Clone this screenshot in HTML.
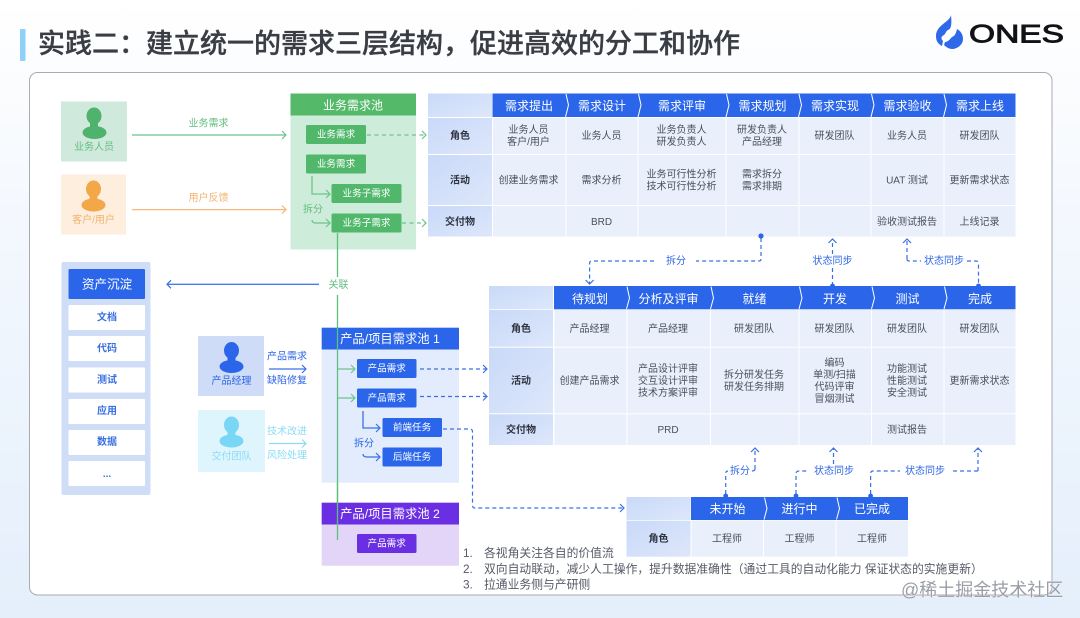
<!DOCTYPE html>
<html lang="zh">
<head>
<meta charset="utf-8">
<title>实践二</title>
<style>
html,body{margin:0;padding:0;width:1080px;height:618px;overflow:hidden;background:#fff}
svg{display:block}
text{font-family:"Liberation Sans","Noto Sans CJK SC",sans-serif;dominant-baseline:central;text-anchor:middle;font-size:10px;fill:#4a4f5c;transform:translateY(1px)}
.h{font-size:12px;fill:#fff}
.b{font-weight:700;fill:#2f3340}
.i{font-size:9.6px;fill:#fff}
.g{fill:#62bd80;font-size:10px}
.o{fill:#f2b36f;font-size:10px}
.bl{fill:#2f67e6;font-size:10px}
.lb{fill:#8adcf5;font-size:10px}
.d{fill:#2f67e6;font-size:10px}
.a{fill:#3a6fe0;font-size:10px;font-weight:700}
.l{text-anchor:start;font-size:11.8px;fill:#555a66}
.cell{fill:#e9effb}
.first{fill:url(#fc)}
.blue{fill:#2b66ea}
.ch{fill:none;stroke:#fff;stroke-width:1}
.dash{fill:none;stroke:#3a70e6;stroke-width:1.2;stroke-dasharray:4 3}
.solid{fill:none;stroke-width:1.3}
</style>
</head>
<body>
<svg width="1080" height="618" viewBox="0 0 1080 618" xmlns="http://www.w3.org/2000/svg">
<defs>
<linearGradient id="bg" x1="0" y1="0" x2="0" y2="1"><stop offset="0" stop-color="#ffffff"/><stop offset="0.35" stop-color="#f4f8fe"/><stop offset="1" stop-color="#e4effb"/></linearGradient>
<linearGradient id="fc" x1="0" y1="0" x2="1" y2="1"><stop offset="0" stop-color="#c9d9f8"/><stop offset="1" stop-color="#dde7fb"/></linearGradient>
<marker id="mg" markerWidth="8" markerHeight="10" refX="5" refY="5" orient="auto" markerUnits="userSpaceOnUse"><path d="M1 1 L5 5 L1 9" fill="none" stroke="#6cc48a" stroke-width="1.2"/></marker>
<marker id="mo" markerWidth="8" markerHeight="10" refX="5" refY="5" orient="auto" markerUnits="userSpaceOnUse"><path d="M1 1 L5 5 L1 9" fill="none" stroke="#f5b878" stroke-width="1.2"/></marker>
<marker id="mb" markerWidth="8" markerHeight="10" refX="5" refY="5" orient="auto" markerUnits="userSpaceOnUse"><path d="M1 1 L5 5 L1 9" fill="none" stroke="#3a70e6" stroke-width="1.2"/></marker>
<marker id="ml" markerWidth="8" markerHeight="10" refX="5" refY="5" orient="auto" markerUnits="userSpaceOnUse"><path d="M1 1 L5 5 L1 9" fill="none" stroke="#8adcf5" stroke-width="1.2"/></marker>
</defs>

<rect width="1080" height="618" fill="url(#bg)"/>

<!-- Title -->
<rect x="20" y="29" width="5.5" height="32" rx="1" fill="#8fd0f8"/>
<text x="38" y="43" style="text-anchor:start;font-size:27px;font-weight:500;fill:#3a3d43;stroke:#3a3d43;stroke-width:0.35">实践二&#xFF1A;建立统一的需求三层结构&#xFF0C;促进高效的分工和协作</text>

<!-- Logo -->
<path d="M951 15 C950 22 936 25 936 36 C936 41 938 44 942 46 L943 41 C940 38 942 36 944 35 C946 33 946 31 948 30 C951 29 952 25 951 15Z" fill="#2f69ea"/>
<path d="M945 42 C948 42 950 39 952 37 C955 36 956 33 957 29 C961 31 963 35 963 39 C963 45 957 49 952 49 C949 49 946 47 944 45Z" fill="#2f69ea"/>
<text x="969" y="33.5" textLength="95" lengthAdjust="spacingAndGlyphs" style="text-anchor:start;font-size:25px;fill:#101216;stroke:#101216;stroke-width:0.9">ONES</text>

<!-- Card -->
<rect x="29.5" y="72.5" width="1022.5" height="522.5" rx="8" fill="#fff" stroke="#a8abb0" stroke-width="1"/>

<!-- Left persons -->
<rect x="61" y="101.5" width="66" height="60" fill="#cfeadc"/>
<g fill="#4fb36e"><ellipse cx="94" cy="116" rx="7.5" ry="8.5"/><rect x="90" y="121" width="8" height="8"/><ellipse cx="94.5" cy="132.5" rx="12" ry="6.5"/></g>
<text x="94" y="146.5" class="g">业务人员</text>
<rect x="61" y="174.5" width="65" height="60" fill="#fdeedd"/>
<g fill="#f2a748"><ellipse cx="93.5" cy="189" rx="7.5" ry="8.5"/><rect x="89.5" y="194" width="8" height="8"/><ellipse cx="93.5" cy="205" rx="12" ry="6.5"/></g>
<text x="93.5" y="219.5" class="o">客户/用户</text>

<text x="208.5" y="123" class="g">业务需求</text>
<line x1="132" y1="135" x2="286" y2="135" stroke="#6cc48a" stroke-width="1.3" marker-end="url(#mg)"/>
<text x="208.5" y="197.5" class="o">用户反馈</text>
<line x1="132" y1="209.6" x2="286" y2="209.6" stroke="#f5b878" stroke-width="1.3" marker-end="url(#mo)"/>

<!-- Business pool -->
<rect x="290.5" y="93.5" width="125.5" height="156" fill="#cdecd9"/>
<rect x="290.5" y="93.5" width="125.5" height="22" fill="#55b96a"/>
<text x="353" y="104.5" class="h">业务需求池</text>
<rect x="306" y="125" width="60" height="19" rx="1.5" fill="#50b76b"/><text x="336" y="134" class="i">业务需求</text>
<rect x="306" y="154.5" width="60" height="19" rx="1.5" fill="#50b76b"/><text x="336" y="163.5" class="i">业务需求</text>
<rect x="331.5" y="184" width="70" height="19" rx="1.5" fill="#50b76b"/><text x="366.5" y="193" class="i">业务子需求</text>
<rect x="331.5" y="213.5" width="70" height="19" rx="1.5" fill="#50b76b"/><text x="366.5" y="222.5" class="i">业务子需求</text>
<path d="M312 176 V194 H330" class="solid" stroke="#6cc48a" marker-end="url(#mg)"/>
<path d="M312 220 Q312 223 316 223 H330" class="solid" stroke="#6cc48a" marker-end="url(#mg)"/>
<text x="313" y="209" class="g">拆分</text>
<path d="M367 135 H426" fill="none" stroke="#6cc48a" stroke-width="1.2" stroke-dasharray="4 3.5" marker-end="url(#mg)"/>
<path d="M402 223 H426" fill="none" stroke="#6cc48a" stroke-width="1.2" stroke-dasharray="4 3.5" marker-end="url(#mg)"/>

<!-- Table 1 -->
<g>
<rect x="428" y="93.5" width="64" height="23.5" class="first"/>
<rect x="492.5" y="93.5" width="523" height="23.5" class="blue"/>
<rect x="428" y="118" width="64" height="36" class="first"/>
<rect x="428" y="155" width="64" height="50" class="first"/>
<rect x="428" y="206" width="64" height="30.5" class="first"/>
<rect x="493" y="118" width="522.5" height="36" class="cell"/>
<rect x="493" y="155" width="522.5" height="50" class="cell"/>
<rect x="493" y="206" width="522.5" height="30.5" class="cell"/>
<path d="M566 118V236.5M638 118V236.5M726 118V236.5M799 118V236.5M871 118V236.5M944 118V236.5" stroke="#fff" stroke-width="1"/>
<path d="M566 94L568.5 105L565.5 117M638.5 94L641 105L638 117M726.5 94L729 105L726 117M799 94L801.5 105L798.5 117M871.5 94L874 105L871 117M944 94L946.5 105L943.5 117" class="ch"/>
<text x="529" y="105" class="h">需求提出</text><text x="602" y="105" class="h">需求设计</text><text x="682" y="105" class="h">需求评审</text><text x="762.5" y="105" class="h">需求规划</text><text x="835" y="105" class="h">需求实现</text><text x="907.5" y="105" class="h">需求验收</text><text x="980" y="105" class="h">需求上线</text>
<text x="460" y="135.5" class="b">角色</text><text x="460" y="180" class="b">活动</text><text x="460" y="221.5" class="b">交付物</text>
<text x="528.5" y="129.5">业务人员</text><text x="528.5" y="141.5">客户/用户</text>
<text x="601.5" y="135.5">业务人员</text>
<text x="681.5" y="129.5">业务负责人</text><text x="681.5" y="141.5">研发负责人</text>
<text x="762" y="129.5">研发负责人</text><text x="762" y="141.5">产品经理</text>
<text x="834.5" y="135.5">研发团队</text><text x="907" y="135.5">业务人员</text><text x="979.5" y="135.5">研发团队</text>
<text x="528.5" y="180">创建业务需求</text><text x="601.5" y="180">需求分析</text>
<text x="681.5" y="174">业务可行性分析</text><text x="681.5" y="186">技术可行性分析</text>
<text x="762" y="174">需求拆分</text><text x="762" y="186">需求排期</text>
<text x="907" y="180">UAT 测试</text><text x="979.5" y="180">更新需求状态</text>
<text x="601.5" y="221.5">BRD</text><text x="907" y="221.5">验收测试报告</text><text x="979.5" y="221.5">上线记录</text>
</g>

<!-- Connectors T1-T2 -->
<circle cx="761" cy="236" r="2.6" fill="#2b66ea"/>
<path d="M761 238 V259 Q761 261 759 261 H696" class="dash"/>
<path d="M654 261 H592 Q589.6 261 589.6 263 V284" class="dash" marker-end="url(#mb)"/>
<text x="676" y="260.5" class="d">拆分</text>
<path d="M832.5 254 V239" class="dash" marker-end="url(#mb)"/>
<path d="M832.5 268 V285" class="dash"/><circle cx="832.5" cy="286" r="2.4" fill="#2b66ea"/>
<text x="832.5" y="260.5" class="d">状态同步</text>
<path d="M907 259 V239" class="dash" marker-end="url(#mb)"/>
<path d="M907 259 Q907 261 909 261 H921" class="dash"/>
<text x="944" y="260.5" class="d">状态同步</text>
<path d="M967 261 H976 Q978.5 261 978.5 264 V285" class="dash"/><circle cx="978.5" cy="286" r="2.4" fill="#2b66ea"/>

<!-- Green relation -->
<path d="M337.5 233 V277" class="solid" stroke="#5cc07a"/>
<path d="M337.5 295 V540 Q337.5 543 340 543 H355" class="solid" stroke="#5cc07a" marker-end="url(#mg)"/>
<text x="338.5" y="284.5" class="g">关联</text>
<line x1="319" y1="284.3" x2="167" y2="284.3" stroke="#4a7de8" stroke-width="1.3" marker-end="url(#mb)"/>

<!-- Assets -->
<rect x="61.5" y="262" width="89" height="233" rx="2" fill="#d0ddf7"/>
<rect x="68.5" y="269" width="76.5" height="30" rx="1" class="blue"/>
<text x="107" y="283.5" style="font-size:12.6px;fill:#fff">资产沉淀</text>
<rect x="68.5" y="305" width="76.5" height="25" rx="1" fill="#fff"/><text x="107" y="317" class="a">文档</text>
<rect x="68.5" y="336" width="76.5" height="25" rx="1" fill="#fff"/><text x="107" y="348" class="a">代码</text>
<rect x="68.5" y="367.5" width="76.5" height="25" rx="1" fill="#fff"/><text x="107" y="379.5" class="a">测试</text>
<rect x="68.5" y="399" width="76.5" height="25" rx="1" fill="#fff"/><text x="107" y="410.5" class="a">应用</text>
<rect x="68.5" y="430" width="76.5" height="25" rx="1" fill="#fff"/><text x="107" y="441.5" class="a">数据</text>
<rect x="68.5" y="461" width="76.5" height="25" rx="1" fill="#fff"/><text x="107" y="473.5" class="a">...</text>

<!-- PM / Delivery -->
<rect x="198" y="336" width="66" height="60" fill="#cfdcf8"/>
<g fill="#2b66ea"><ellipse cx="231.5" cy="350.5" rx="7.5" ry="8.5"/><rect x="227.5" y="355" width="8" height="8"/><ellipse cx="231.5" cy="366.5" rx="12" ry="6.5"/></g>
<text x="231.5" y="380.5" class="bl">产品经理</text>
<rect x="198" y="410" width="67" height="62" fill="#dff5fd"/>
<g fill="#7ad6f5"><ellipse cx="231.5" cy="425" rx="7.5" ry="8.5"/><rect x="227.5" y="430" width="8" height="8"/><ellipse cx="231.5" cy="441" rx="12" ry="6.5"/></g>
<text x="231.5" y="456" class="lb">交付团队</text>
<text x="287" y="356" class="bl">产品需求</text>
<line x1="269" y1="369" x2="306" y2="369" stroke="#3a70e6" stroke-width="1.3" marker-end="url(#mb)"/>
<text x="287" y="380" class="bl">缺陷修复</text>
<text x="287" y="431" class="lb">技术改进</text>
<line x1="269" y1="443.5" x2="306" y2="443.5" stroke="#8adcf5" stroke-width="1.3" marker-end="url(#ml)"/>
<text x="287" y="455" class="lb">风险处理</text>

<!-- Pool 1 -->
<rect x="321.7" y="327.7" width="137.3" height="155" fill="#e3ecfc"/>
<rect x="321.7" y="327.7" width="137.3" height="21.8" class="blue"/>
<text x="390" y="338" style="font-size:12.3px;fill:#fff">产品/项目需求池 1</text>
<rect x="357" y="359" width="59.5" height="19" rx="1.5" class="blue"/><text x="386.7" y="368" class="i">产品需求</text>
<rect x="357" y="388.5" width="59.5" height="19" rx="1.5" class="blue"/><text x="386.7" y="397.5" class="i">产品需求</text>
<rect x="382.5" y="418" width="59.5" height="19" rx="1.5" class="blue"/><text x="412" y="427" class="i">前端任务</text>
<rect x="382.5" y="447.5" width="59.5" height="19" rx="1.5" class="blue"/><text x="412" y="456.5" class="i">后端任务</text>
<path d="M363 411 V428 H380" class="solid" stroke="#3a70e6" marker-end="url(#mb)"/>
<path d="M363 454 Q363 457 367 457 H380" class="solid" stroke="#3a70e6" marker-end="url(#mb)"/>
<text x="364" y="443" class="bl">拆分</text>

<!-- Pool 2 -->
<rect x="321.7" y="502.7" width="137.3" height="63" fill="#e2d5f7"/>
<rect x="321.7" y="502.7" width="137.3" height="21.8" fill="#6b2fe3"/>
<text x="390" y="513" style="font-size:12.3px;fill:#fff">产品/项目需求池 2</text>
<rect x="357" y="534" width="59.5" height="19" rx="1.5" fill="#6b2fe3"/><text x="386.7" y="543" class="i">产品需求</text>

<!-- Green over pool -->
<line x1="337.5" y1="327" x2="337.5" y2="540" stroke="#5cc07a" stroke-width="1.3"/>
<path d="M337.5 369 H355" class="solid" stroke="#6cc48a" marker-end="url(#mg)"/>
<path d="M337.5 398 H355" class="solid" stroke="#6cc48a" marker-end="url(#mg)"/>

<!-- Pool dashed -->
<path d="M420 369 H487" class="dash" marker-end="url(#mb)"/>
<path d="M420 396.5 H487" class="dash" marker-end="url(#mb)"/>
<path d="M443 429 H470 Q472.5 429 472.5 432 V505 Q472.5 508 475 508 H624" class="dash" marker-end="url(#mb)"/>

<!-- Table 2 -->
<g>
<rect x="489" y="286" width="64" height="23.3" class="first"/>
<rect x="554" y="286" width="461.5" height="23.3" class="blue"/>
<rect x="489" y="310" width="64" height="36.7" class="first"/>
<rect x="489" y="347.7" width="64" height="65.6" class="first"/>
<rect x="489" y="414.3" width="64" height="30.7" class="first"/>
<rect x="554.5" y="310" width="461" height="36.7" class="cell"/>
<rect x="554.5" y="347.7" width="461" height="65.6" class="cell"/>
<rect x="554.5" y="414.3" width="461" height="30.7" class="cell"/>
<path d="M627 310V445M710.5 310V445M799 310V445M871.5 310V445M944 310V445" stroke="#fff" stroke-width="1"/>
<path d="M627 286.5L629.5 298L626.5 309M711 286.5L713.5 298L710.5 309M799.5 286.5L802 298L799 309M872 286.5L874.5 298L871.5 309M944.5 286.5L947 298L944 309" class="ch"/>
<text x="590" y="298" class="h">待规划</text><text x="668.5" y="298" class="h">分析及评审</text><text x="754.5" y="298" class="h">就绪</text><text x="835" y="298" class="h">开发</text><text x="907.5" y="298" class="h">测试</text><text x="980" y="298" class="h">完成</text>
<text x="521" y="328.5" class="b">角色</text><text x="521" y="380.5" class="b">活动</text><text x="521" y="429.5" class="b">交付物</text>
<text x="589.5" y="328.5">产品经理</text><text x="668" y="328.5">产品经理</text><text x="754" y="328.5">研发团队</text><text x="834.5" y="328.5">研发团队</text><text x="907" y="328.5">研发团队</text><text x="979.5" y="328.5">研发团队</text>
<text x="589.5" y="380.5">创建产品需求</text>
<text x="668" y="368.5">产品设计评审</text><text x="668" y="380.5">交互设计评审</text><text x="668" y="392.5">技术方案评审</text>
<text x="754" y="374.5">拆分研发任务</text><text x="754" y="386.5">研发任务排期</text>
<text x="834.5" y="362.5">编码</text><text x="834.5" y="374.5">单测/扫描</text><text x="834.5" y="386.5">代码评审</text><text x="834.5" y="398.5">冒烟测试</text>
<text x="907" y="368.5">功能测试</text><text x="907" y="380.5">性能测试</text><text x="907" y="392.5">安全测试</text>
<text x="979.5" y="380.5">更新需求状态</text>
<text x="668" y="429.5">PRD</text><text x="907" y="429.5">测试报告</text>
</g>

<!-- Connectors T2-T3 -->
<path d="M755 469 V448" class="dash" marker-end="url(#mb)"/>
<path d="M755 469 Q755 471 752 471" class="dash"/>
<text x="740" y="470.5" class="d">拆分</text>
<path d="M725.7 494 V474 Q725.7 471 728 471" class="dash"/><circle cx="725.7" cy="496" r="2.4" fill="#2b66ea"/>
<path d="M833.5 464 V448" class="dash" marker-end="url(#mb)"/>
<text x="834" y="470.5" class="d">状态同步</text>
<path d="M796 494 V474 Q796 471 799 471 H808" class="dash"/><circle cx="796" cy="496" r="2.4" fill="#2b66ea"/>
<path d="M978 471 V448" class="dash" marker-end="url(#mb)"/>
<path d="M978 471 H951" class="dash"/>
<text x="925" y="470.5" class="d">状态同步</text>
<path d="M870.6 494 V474 Q870.6 471 873 471 H900" class="dash"/><circle cx="870.6" cy="496" r="2.4" fill="#2b66ea"/>

<!-- Table 3 -->
<g>
<rect x="626.5" y="497" width="64" height="23" class="first"/>
<rect x="691" y="497" width="217" height="23" class="blue"/>
<rect x="626.5" y="520.7" width="64" height="36" class="first"/>
<rect x="691.5" y="520.7" width="216.5" height="36" class="cell"/>
<path d="M763.5 520.7V556.7M836 520.7V556.7" stroke="#fff" stroke-width="1"/>
<path d="M764.5 497.5L767 508.5L764 519.5M837 497.5L839.5 508.5L836.5 519.5" class="ch"/>
<text x="727.5" y="508" class="h">未开始</text><text x="799.5" y="508" class="h">进行中</text><text x="872" y="508" class="h">已完成</text>
<text x="658.5" y="538.5" class="b">角色</text>
<text x="727" y="538.5">工程师</text><text x="799.5" y="538.5">工程师</text><text x="872" y="538.5">工程师</text>
</g>

<!-- Notes -->
<text x="463" y="552" class="l">1.</text><text x="484" y="552" class="l">各视角关注各自的价值流</text>
<text x="463" y="568" class="l">2.</text><text x="484" y="568" class="l">双向自动联动&#xFF0C;减少人工操作&#xFF0C;提升数据准确性&#xFF08;通过工具的自动化能力 保证状态的实施更新&#xFF09;</text>
<text x="463" y="583.5" class="l">3.</text><text x="484" y="583.5" class="l">拉通业务侧与产研侧</text>

<!-- Watermark -->
<text x="901" y="589" style="text-anchor:start;font-size:18px;fill:#9a9ea6;stroke:#fff;stroke-width:0.4;paint-order:stroke">@稀土掘金技术社区</text>
</svg>
</body>
</html>
